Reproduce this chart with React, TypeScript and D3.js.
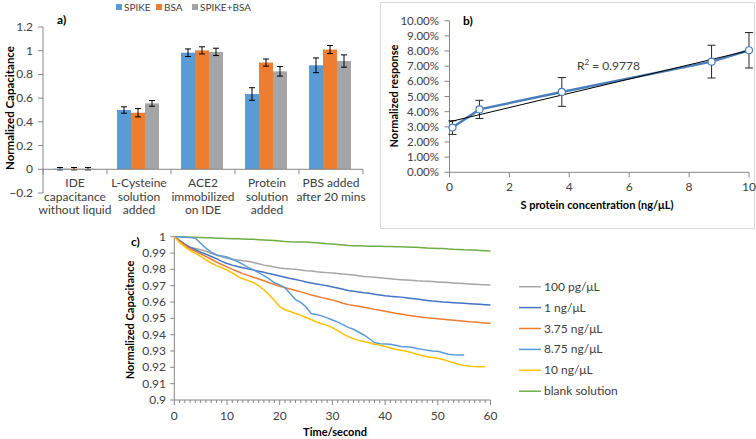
import React from 'react';
import * as d3 from 'd3';

// ---------- Panel a data ----------
const barCategories = [
  ['IDE', 'capacitance', 'without liquid'],
  ['L-Cysteine', 'solution', 'added'],
  ['ACE2', 'immobilized', 'on IDE'],
  ['Protein', 'solution', 'added'],
  ['PBS added', 'after 20 mins'],
];
const barSeries = ['SPIKE', 'BSA', 'SPIKE+BSA'];
const spikeVals = [0.005, 0.5, 0.983, 0.635, 0.877];
const spikeErr = [0.01, 0.027, 0.032, 0.053, 0.062];
const bsaVals = [0.005, 0.477, 1.003, 0.9, 1.01];
const bsaErr = [0.01, 0.035, 0.03, 0.03, 0.034];
const mixVals = [0.005, 0.556, 0.99, 0.826, 0.913];
const mixErr = [0.01, 0.024, 0.031, 0.04, 0.052];
const barYTicks = [-0.2, 0, 0.2, 0.4, 0.6, 0.8, 1, 1.2];
const barColors = ['#5b9bd5', '#ed7d31', '#a5a5a5'];

// ---------- Panel b data ----------
const concX = [0.1, 1, 3.75, 8.75, 10];
const respY = [0.0295, 0.0415, 0.053, 0.073, 0.0805];
const respErr = [0.0045, 0.006, 0.0095, 0.0108, 0.0117];
const respYTicks = [0, 0.01, 0.02, 0.03, 0.04, 0.05, 0.06, 0.07, 0.08, 0.09, 0.1];
const respXTicks = [0, 2, 4, 6, 8, 10];
const r2Label = '0.9778';

// ---------- Panel c data (per second) ----------
const lineNames = ['100 pg/μL', '1 ng/μL', '3.75 ng/μL', '8.75 ng/μL', '10 ng/μL', 'blank solution'];
const lineColors = ['#a5a5a5', '#4472c4', '#ed7d31', '#5b9bd5', '#ffc000', '#70ad47'];
const s100pg = [1.0, 0.9975, 0.9952, 0.9935, 0.9928, 0.992, 0.9911, 0.9899, 0.9888, 0.9877, 0.9868, 0.9862, 0.9857, 0.9853, 0.985, 0.9842, 0.9834, 0.9826, 0.982, 0.9815, 0.9809, 0.9805, 0.9802, 0.98, 0.9796, 0.9792, 0.979, 0.9786, 0.9783, 0.978, 0.9777, 0.9774, 0.9771, 0.9769, 0.9765, 0.9761, 0.9757, 0.9754, 0.9751, 0.9748, 0.9745, 0.9742, 0.9739, 0.9737, 0.9735, 0.9733, 0.973, 0.9728, 0.9727, 0.9725, 0.9723, 0.9721, 0.9719, 0.9717, 0.9715, 0.9713, 0.9711, 0.9709, 0.9707, 0.9706, 0.9704];
const s1ng = [1.0, 0.9978, 0.9955, 0.9935, 0.992, 0.9905, 0.9893, 0.9879, 0.9866, 0.9849, 0.9836, 0.9826, 0.9817, 0.981, 0.9803, 0.9796, 0.9789, 0.9782, 0.9774, 0.9767, 0.9759, 0.9752, 0.9744, 0.9738, 0.9731, 0.9723, 0.9716, 0.9711, 0.9705, 0.9699, 0.9692, 0.9686, 0.9678, 0.967, 0.9666, 0.9662, 0.9657, 0.9653, 0.9648, 0.9643, 0.9638, 0.9635, 0.9633, 0.963, 0.9626, 0.9622, 0.9618, 0.9614, 0.961, 0.9606, 0.9603, 0.96, 0.9598, 0.9596, 0.9594, 0.9592, 0.959, 0.9588, 0.9586, 0.9584, 0.9582];
const s375ng = [1.0, 0.9972, 0.9948, 0.9926, 0.991, 0.9895, 0.9879, 0.9862, 0.9845, 0.983, 0.9815, 0.98, 0.9787, 0.9774, 0.9763, 0.9752, 0.9741, 0.973, 0.9718, 0.9707, 0.9697, 0.9688, 0.968, 0.9671, 0.9662, 0.9653, 0.9643, 0.9635, 0.9627, 0.962, 0.9613, 0.9603, 0.9593, 0.9584, 0.9579, 0.9574, 0.9568, 0.9562, 0.9555, 0.9549, 0.9543, 0.9537, 0.9531, 0.9526, 0.9521, 0.9516, 0.9511, 0.9507, 0.9503, 0.95, 0.9497, 0.9494, 0.9491, 0.9488, 0.9485, 0.9482, 0.9479, 0.9477, 0.9474, 0.9472, 0.947];
const s875ng = [1.0, 0.9999, 0.9997, 0.9995, 0.9991, 0.996, 0.993, 0.9905, 0.9888, 0.9882, 0.9876, 0.9862, 0.9848, 0.983, 0.9812, 0.9797, 0.978, 0.9762, 0.9742, 0.9718, 0.9705, 0.9688, 0.965, 0.9615, 0.9598, 0.957, 0.9528, 0.9524, 0.9515, 0.9503, 0.949, 0.9477, 0.9462, 0.9445, 0.9433, 0.9415, 0.9398, 0.9375, 0.9352, 0.9345, 0.9343, 0.9341, 0.9335, 0.9328, 0.9326, 0.9323, 0.9316, 0.931, 0.9304, 0.93, 0.9298, 0.9289, 0.928, 0.9277, 0.9276, 0.9276];
const s10ng = [1.0, 0.9965, 0.9938, 0.9915, 0.9898, 0.9879, 0.9858, 0.9839, 0.9823, 0.981, 0.9795, 0.9778, 0.9758, 0.9742, 0.9731, 0.972, 0.97, 0.9675, 0.9645, 0.961, 0.9572, 0.9553, 0.9542, 0.953, 0.9518, 0.9505, 0.9492, 0.9478, 0.9467, 0.9457, 0.9443, 0.9425, 0.9405, 0.9388, 0.9375, 0.9365, 0.9358, 0.935, 0.9342, 0.9336, 0.9328, 0.9319, 0.9311, 0.9305, 0.9298, 0.929, 0.928, 0.9272, 0.9265, 0.926, 0.9255, 0.9248, 0.9238, 0.9228, 0.9218, 0.9212, 0.9207, 0.9205, 0.9204, 0.9204];
const sBlank = [1.0, 0.9999, 0.9998, 0.9997, 0.9996, 0.9995, 0.9994, 0.9993, 0.9991, 0.999, 0.9989, 0.9988, 0.9987, 0.9986, 0.9985, 0.9984, 0.9982, 0.998, 0.9978, 0.9976, 0.9974, 0.9971, 0.9969, 0.9968, 0.9968, 0.9967, 0.9965, 0.9963, 0.996, 0.9957, 0.9955, 0.9952, 0.9949, 0.9946, 0.9945, 0.9944, 0.9943, 0.9942, 0.9942, 0.9941, 0.994, 0.994, 0.9939, 0.9938, 0.9937, 0.9936, 0.9935, 0.9933, 0.9931, 0.993, 0.9928, 0.9927, 0.9925, 0.9923, 0.9922, 0.992, 0.9919, 0.9918, 0.9916, 0.9914, 0.9912];
const timeYTicks = [0.9, 0.91, 0.92, 0.93, 0.94, 0.95, 0.96, 0.97, 0.98, 0.99, 1];
const timeXTicks = [0, 10, 20, 30, 40, 50, 60];

const FONT = "Lato, 'Open Sans', 'Liberation Sans', sans-serif";
const AXIS = '#868686';
const TXT = '#404040';

function PanelA() {
  const y = d3.scaleLinear().domain([-0.2, 1.2]).range([193, 27]);
  const x0 = d3.scaleBand<number>().domain(d3.range(barCategories.length)).range([43, 363]);
  const x1 = d3.scaleBand<string>().domain(barSeries).range([10, 52]);
  const vals = [spikeVals, bsaVals, mixVals];
  const errs = [spikeErr, bsaErr, mixErr];
  const legendX = [116, 156, 192];
  return (
    <g fontFamily={FONT}>
      {barSeries.map((s, i) => (
        <g key={s}>
          <rect x={legendX[i]} y={4} width={6} height={6} fill={barColors[i]} />
          <text x={legendX[i] + 8} y={11} fontSize={10} fill={TXT}>{s}</text>
        </g>
      ))}
      <text x={57} y={24} fontSize={12} fontWeight="bold" fill="#000">a)</text>
      <line x1={43} x2={43} y1={y(1.2)} y2={y(-0.2)} stroke={AXIS} />
      {barYTicks.map((t) => (
        <g key={t}>
          <line x1={38} x2={43} y1={y(t)} y2={y(t)} stroke={AXIS} />
          <text x={33} y={y(t) + 4} fontSize={12} textAnchor="end" fill={TXT}>{d3.format('~g')(t)}</text>
        </g>
      ))}
      <text transform={`translate(14,${108}) rotate(-90)`} fontSize={11.5} fontWeight="bold" textAnchor="middle" fill="#000">Normalized Capacitance</text>
      {barSeries.map((s, si) =>
        vals[si].map((v, ci) => {
          const bx = (x0(ci) as number) + (x1(s) as number);
          const bw = x1.bandwidth();
          const cx = bx + bw / 2;
          const e = errs[si][ci];
          return (
            <g key={s + ci}>
              <rect x={bx} y={Math.min(y(v), y(0))} width={bw} height={Math.abs(y(0) - y(v))} fill={barColors[si]} />
              <line x1={cx} x2={cx} y1={y(v + e)} y2={y(v - e)} stroke="#000" strokeWidth={1} />
              <line x1={cx - 3} x2={cx + 3} y1={y(v + e)} y2={y(v + e)} stroke="#000" />
              <line x1={cx - 3} x2={cx + 3} y1={y(v - e)} y2={y(v - e)} stroke="#000" />
            </g>
          );
        })
      )}
      <line x1={43} x2={363} y1={y(0)} y2={y(0)} stroke={AXIS} />
      {d3.range(barCategories.length + 1).map((i) => {
        const xx = 43 + i * x0.step();
        return <line key={i} x1={xx} x2={xx} y1={y(0)} y2={y(0) + 5} stroke={AXIS} />;
      })}
      {barCategories.map((lines, ci) => (
        <text key={ci} x={(x0(ci) as number) + x0.bandwidth() / 2} y={187} fontSize={12} textAnchor="middle" fill={TXT}>
          {lines.map((l, li) => (
            <tspan key={li} x={(x0(ci) as number) + x0.bandwidth() / 2} dy={li === 0 ? 0 : 13.5}>{l}</tspan>
          ))}
        </text>
      ))}
    </g>
  );
}

function PanelB() {
  const x = d3.scaleLinear().domain([0, 10]).range([449.5, 749]);
  const y = d3.scaleLinear().domain([0, 0.1]).range([172.3, 20.7]);
  const mx = d3.mean(concX) as number;
  const my = d3.mean(respY) as number;
  const sxy = d3.sum(concX.map((v, i) => (v - mx) * (respY[i] - my)));
  const sxx = d3.sum(concX.map((v) => (v - mx) * (v - mx)));
  const slope = sxy / sxx;
  const icpt = my - slope * mx;
  const trendX = [0, 10];
  const line = d3.line<number>().x((_, i) => x(concX[i])).y((d) => y(d));
  return (
    <g fontFamily={FONT}>
      <rect x={380.5} y={2.5} width={374} height={226} fill="none" stroke="#d9d9d9" />
      <line x1={x(0)} x2={x(0)} y1={y(0.1)} y2={y(0)} stroke={AXIS} />
      {respYTicks.map((t) => (
        <g key={t}>
          <line x1={x(0) - 5} x2={x(0)} y1={y(t)} y2={y(t)} stroke={AXIS} />
          <text x={439} y={y(t) + 4} fontSize={11.5} textAnchor="end" fill={TXT}>{d3.format('.2%')(t)}</text>
        </g>
      ))}
      <line x1={x(0)} x2={x(10)} y1={y(0)} y2={y(0)} stroke={AXIS} />
      {respXTicks.map((t) => (
        <g key={t}>
          <line x1={x(t)} x2={x(t)} y1={y(0)} y2={y(0) + 5} stroke={AXIS} />
          <text x={x(t)} y={191} fontSize={12} textAnchor="middle" fill={TXT}>{t}</text>
        </g>
      ))}
      <text x={463} y={25} fontSize={12} fontWeight="bold" fill="#000">b)</text>
      <text transform={`translate(398,96) rotate(-90)`} fontSize={11} fontWeight="bold" textAnchor="middle" fill="#000">Normalized response</text>
      <text x={597} y={209} fontSize={11} fontWeight="bold" textAnchor="middle" fill="#000">S protein concentration (ng/μL)</text>
      {concX.map((cx, i) => (
        <g key={i}>
          <line x1={x(cx)} x2={x(cx)} y1={y(respY[i] + respErr[i])} y2={y(respY[i] - respErr[i])} stroke="#262626" />
          <line x1={x(cx) - 4} x2={x(cx) + 4} y1={y(respY[i] + respErr[i])} y2={y(respY[i] + respErr[i])} stroke="#262626" />
          <line x1={x(cx) - 4} x2={x(cx) + 4} y1={y(respY[i] - respErr[i])} y2={y(respY[i] - respErr[i])} stroke="#262626" />
        </g>
      ))}
      <path d={line(respY) || ''} fill="none" stroke="#4a7ebb" strokeWidth={2.5} />
      <line x1={x(trendX[0])} x2={x(trendX[1])} y1={y(icpt + slope * trendX[0])} y2={y(icpt + slope * trendX[1])} stroke="#000" strokeWidth={1} />
      {concX.map((cx, i) => (
        <circle key={i} cx={x(cx)} cy={y(respY[i])} r={3.5} fill="#fff" stroke="#4a7ebb" strokeWidth={1.2} />
      ))}
      <text x={577} y={70} fontSize={12} fill={TXT}>R<tspan fontSize={8} dy={-5}>2</tspan><tspan dy={5}> = {r2Label}</tspan></text>
    </g>
  );
}

function PanelC() {
  const x = d3.scaleLinear().domain([0, 60]).range([174.3, 490.5]);
  const y = d3.scaleLinear().domain([0.9, 1]).range([400, 236.7]);
  const series = [s100pg, s1ng, s375ng, s875ng, s10ng, sBlank];
  const line = d3.line<number>().x((_, i) => x(i)).y((d) => y(d));
  const drawOrder = [5, 0, 1, 2, 3, 4];
  return (
    <g fontFamily={FONT}>
      <text x={131} y={246} fontSize={12} fontWeight="bold" fill="#000">c)</text>
      <line x1={x(0)} x2={x(0)} y1={y(1)} y2={y(0.9)} stroke={AXIS} />
      {timeYTicks.map((t) => (
        <g key={t}>
          <line x1={x(0) - 4} x2={x(0)} y1={y(t)} y2={y(t)} stroke={AXIS} />
          <text x={166} y={y(t) + 4} fontSize={12} textAnchor="end" fill={TXT}>{d3.format('~g')(t)}</text>
        </g>
      ))}
      <line x1={x(0)} x2={x(60)} y1={y(0.9)} y2={y(0.9)} stroke={AXIS} />
      {d3.range(0, 61).map((t) => (
        <line key={t} x1={x(t)} x2={x(t)} y1={y(0.9)} y2={y(0.9) + (t % 10 === 0 ? 5 : 3)} stroke={AXIS} />
      ))}
      {timeXTicks.map((t) => (
        <text key={t} x={x(t)} y={420} fontSize={12} textAnchor="middle" fill={TXT}>{t}</text>
      ))}
      <text x={335} y={436} fontSize={11} fontWeight="bold" textAnchor="middle" fill="#000">Time/second</text>
      <text transform={`translate(134,320) rotate(-90)`} fontSize={11} fontWeight="bold" textAnchor="middle" fill="#000">Normalized Capacitance</text>
      {drawOrder.map((si) => (
        <path key={si} d={line(series[si]) || ''} fill="none" stroke={lineColors[si]} strokeWidth={1.5} />
      ))}
      {lineNames.map((n, i) => {
        const cy = 286.7 + i * 20.9;
        return (
          <g key={n}>
            <line x1={519} x2={541} y1={cy} y2={cy} stroke={lineColors[i]} strokeWidth={1.5} />
            <text x={544} y={cy + 4} fontSize={12} fill={TXT}>{n}</text>
          </g>
        );
      })}
    </g>
  );
}

export default function App() {
  return (
    <div style={{ position: 'absolute', left: 0, top: 0 }}>
      <svg width={756} height={439} style={{ display: 'block', background: '#fff' }}>
        <PanelA />
        <PanelB />
        <PanelC />
      </svg>
    </div>
  );
}
